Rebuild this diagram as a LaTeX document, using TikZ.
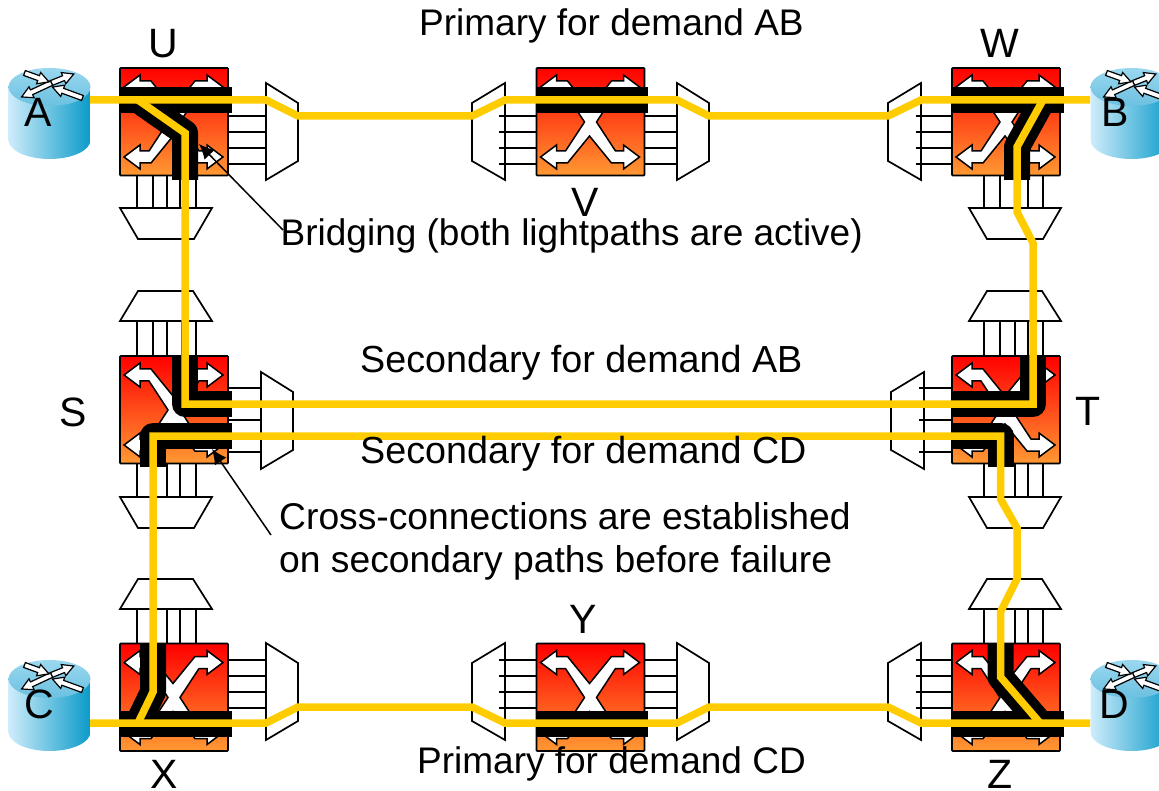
\documentclass[tikz,border=0pt]{standalone}
\usepackage{fontspec}
\setmainfont{Liberation Sans}
\usetikzlibrary{arrows.meta}
\definecolor{lightyellow}{HTML}{FFCC00}
\definecolor{oxctop}{HTML}{FF0000}
\definecolor{oxcbot}{HTML}{FF9933}
\definecolor{cylL}{HTML}{CFEDFB}
\definecolor{cylR}{HTML}{0A9AC9}
\definecolor{cylT}{HTML}{9AD8EF}
\definecolor{cylB}{HTML}{6BC0E0}
\tikzset{
  oxcbox/.style={draw=black,line width=1.8pt,rounded corners=0.8pt,top color=oxctop,bottom color=oxcbot},
  xarrow/.style={draw=black,fill=white,line width=1.5pt,line join=miter},
  mux/.style={draw=black,fill=white,line width=1.7pt,line join=miter},
  fibre/.style={draw=black,line width=1.6pt},
  xbar/.style={draw=black,line width=26pt},
  xpath/.style={draw=black,line width=26pt,line join=round},
  lightpath/.style={draw=lightyellow,line width=7.5pt,line join=miter},
  callout/.style={draw=black,line width=1.5pt,-{Latex[length=15pt,width=14pt]}},
  rarrow/.style={draw=black,fill=white,line width=1.2pt,line join=miter},
  biglabel/.style={font=\fontsize{41}{46}\selectfont,anchor=base,inner sep=0pt},
  sentence/.style={font=\fontsize{37}{42}\selectfont,anchor=base west,inner sep=0pt},
  sentencewide/.style={sentence,font=\fontsize{37.7}{42}\selectfont},
  sentencemid/.style={sentence,font=\fontsize{37.25}{42}\selectfont}
}
\newcommand{\oxcunit}[2]{%
  \begin{scope}[shift={(#1,#2)}]
    \path[oxcbox] (0,0) rectangle (108,107.5);
    \draw[xarrow] (4,19)--(20,7)--(20,13)--(31,13)--(53,40)--(75,13)--(87,13)--(87,7)--(103,19)--(87,31)--(87,25)--(79,25)--(60,54)--(79,83)--(87,83)--(87,77)--(103,89)--(87,101)--(87,95)--(75,95)--(53,68)--(31,95)--(20,95)--(20,101)--(4,89)--(20,77)--(20,83)--(29,83)--(48,54)--(29,25)--(20,25)--(20,31)--cycle;
  \end{scope}}
\newcommand{\muxwideleft}[2]{\draw[mux] (#1,#2)--(#1+32,#2+20)--(#1+32,#2+78)--(#1,#2+97)--cycle;}
\newcommand{\muxwideright}[2]{\draw[mux] (#1+33,#2)--(#1,#2+20)--(#1,#2+78)--(#1+33,#2+97)--cycle;}
\newcommand{\muxup}[2]{\draw[mux] (#1+18,#2)--(#1+73,#2)--(#1+92,#2+30)--(#1,#2+30)--cycle;}
\newcommand{\muxdown}[2]{\draw[mux] (#1,#2)--(#1+92,#2)--(#1+74,#2+31)--(#1+18,#2+31)--cycle;}
\newcommand{\hfibres}[3]{\foreach \yy in {#3}{\draw[fibre] (#1,\yy)--(#2,\yy);}}
\newcommand{\vfibres}[3]{\foreach \xx in {#3}{\draw[fibre] (\xx,#1)--(\xx,#2);}}
\newcommand{\routerarrow}[3]{%
  \draw[rarrow,shift={(#1)},rotate=#2] (0,-2.6)--(#3-11,-2.6)--(#3-11,-6)--(#3,0)--(#3-11,6)--(#3-11,2.6)--(0,2.6)--cycle;}
\newcommand{\routerdrum}[2]{%
  \begin{scope}[shift={(#1,#2)}]
    \path[left color=cylL,right color=cylR] (-41,19)--(-41,72) arc[start angle=180,end angle=360,x radius=41pt,y radius=19pt]--(41,19)--cycle;
    \path[top color=cylT,bottom color=cylB] (0,19) ellipse[x radius=41pt,y radius=19pt];
    \routerarrow{2,15}{22}{24}
    \routerarrow{2,15}{205}{33}
    \routerarrow{-25,5}{-20}{26}
    \routerarrow{33,30}{160}{32}
  \end{scope}}
\begin{document}
\begin{tikzpicture}[x=1pt,y=-1pt]
\clip (0,0) rectangle (1159,791);
\path[use as bounding box] (0,0) rectangle (1159,791);
% routers
\routerdrum{49.5}{68}
\routerdrum{1131.5}{68}
\routerdrum{49.5}{660}
\routerdrum{1131.5}{660}
% fibres
\hfibres{228}{266}{116,132,148,164}
\hfibres{499}{537}{116,132,148,164}
\hfibres{644}{677}{116,132,148,164}
\hfibres{916}{952}{116,132,148,164}
\hfibres{228}{261}{388,404,420,436,452}
\hfibres{919}{952}{388,404,420,436,452}
\hfibres{228}{266}{660,676,692,708}
\hfibres{499}{537}{660,676,692,708}
\hfibres{644}{677}{660,676,692,708}
\hfibres{916}{952}{660,676,692,708}
\vfibres{175}{208}{137,153,167,180,196}
\vfibres{321}{356}{137,153,167,182,196}
\vfibres{463}{497}{137,153,167,180,196}
\vfibres{609}{643}{137,153,167,180,196}
\vfibres{175}{208}{984,1000,1015,1028,1043}
\vfibres{321}{356}{984,1000,1015,1028,1043}
\vfibres{463}{497}{984,1000,1015,1028,1043}
\vfibres{609}{643}{984,1000,1015,1028,1043}
% multiplexers
\muxwideleft{266}{83}
\muxwideright{472}{83}
\muxwideleft{677}{83}
\muxwideright{888}{83}
\muxwideleft{261}{372}
\muxwideright{891}{372}
\muxwideleft{266}{643}
\muxwideright{472}{643}
\muxwideleft{677}{643}
\muxwideright{888}{643}
\muxdown{120}{208}
\muxdown{969}{208}
\muxup{120}{291}
\muxup{969}{291}
\muxdown{120}{497}
\muxdown{969}{497}
\muxup{120}{579}
\muxup{969}{579}
\hfibres{499}{505}{116,132,148,164}
\hfibres{916}{921}{116,132,148,164}
\hfibres{919}{924}{388,404,420,436,452}
\hfibres{499}{505}{660,676,692,708}
\hfibres{916}{921}{660,676,692,708}
% switches
\oxcunit{120}{68}
\oxcunit{536.5}{68}
\oxcunit{952}{68}
\oxcunit{120}{356}
\oxcunit{952}{356}
\oxcunit{120}{643.5}
\oxcunit{536.5}{643.5}
\oxcunit{952}{643.5}
% cross-connection bars
\draw[xbar] (120,100)--(232,100);
\draw[xbar] (537,100)--(648,100);
\draw[xbar] (952,100)--(1064,100);
\draw[xbar] (120,724)--(232,724);
\draw[xbar] (537,724)--(648,724);
\draw[xbar] (952,724)--(1064,724);
% waypoints
\coordinate (uin) at (138,100);
\coordinate (ubend) at (185,133);
\coordinate (sab) at (185,404);
\coordinate (tab) at (1033,404);
\coordinate (wj1) at (1033,243);
\coordinate (wj2) at (1017,212);
\coordinate (wbend) at (1017,147);
\coordinate (win) at (1043,100);
\coordinate (xin) at (138,723);
\coordinate (xbend) at (153,692);
\coordinate (scd) at (153,436);
\coordinate (tcd) at (1000.5,436);
\coordinate (tj1) at (1000.5,499);
\coordinate (tj2) at (1017,528);
\coordinate (zj1) at (1017,579);
\coordinate (zj2) at (1000.5,612);
\coordinate (zbend) at (1000.5,677);
\coordinate (zin) at (1040,723);
% black cross-connections
\draw[xpath] (uin)--(ubend)--(185,180);
\draw[xpath] (win)--(wbend)--(1017,180);
\draw[xpath] (185,356)--(sab)--(232,404);
\draw[xpath] (232,436)--(scd)--(153,467);
\draw[xpath] (1033,356)--(tab)--(952,404);
\draw[xpath] (952,436)--(tcd)--(1000.5,467);
\draw[xpath] (xin)--(xbend)--(153,643);
\draw[xpath] (zin)--(zbend)--(1000.5,643);
% lightpaths
\draw[lightpath] (90,100)--(266,100)--(298,116)--(472,116)--(505,100)--(677,100)--(709,116)--(888,116)--(921,100)--(1090,100);
\draw[lightpath] (90,723)--(266,723)--(298,707)--(472,707)--(505,723)--(677,723)--(709,707)--(888,707)--(921,723)--(1090,723);
\draw[lightpath] (uin)--(ubend)--(sab)--(tab)--(wj1)--(wj2)--(wbend)--(win);
\draw[lightpath] (xin)--(xbend)--(scd)--(tcd)--(tj1)--(tj2)--(zj1)--(zj2)--(zbend)--(zin);
% labels
\node[biglabel] (lA) at (38,127) {A};
\node[biglabel] (lB) at (1115,127) {B};
\node[biglabel] (lC) at (39,718) {C};
\node[biglabel] (lD) at (1114,718) {D};
\node[biglabel] (lU) at (163,58) {U};
\node[biglabel] (lV) at (585,217) {V};
\node[biglabel] (lW) at (1000,58) {W};
\node[biglabel] (lS) at (73,426) {S};
\node[biglabel] (lT) at (1088,425) {T};
\node[biglabel] (lX) at (164,788.5) {X};
\node[biglabel] (lY) at (583,633) {Y};
\node[biglabel] (lZ) at (1000,788.5) {Z};
\node[sentence] (pab) at (419,36) {Primary for demand AB};
\node[sentence] (bridging) at (280.5,246) {Bridging (both lightpaths are active)};
\node[sentencewide] (sabt) at (360,373) {Secondary for demand AB};
\node[sentencewide] (scdt) at (360,463) {Secondary for demand CD};
\node[sentencemid] (cross1) at (279,529) {Cross-connections are established};
\node[sentencemid] (cross2) at (279,572) {on secondary paths before failure};
\node[sentence] (pcd) at (417,773) {Primary for demand CD};
% callouts
\coordinate (bridgetip) at (199,144);
\coordinate (crosstip) at (212,449);
\coordinate (crosstail) at (271,535);
\draw[callout] (283,230)--(bridgetip);
\draw[callout] (crosstail)--(crosstip);
\end{tikzpicture}
\end{document}
